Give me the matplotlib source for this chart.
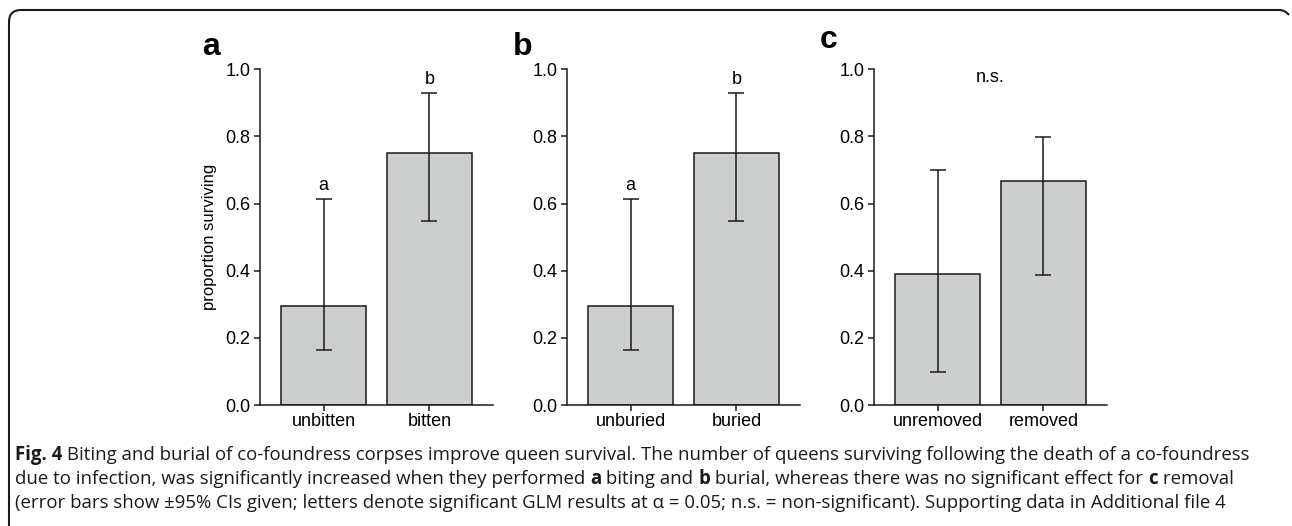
import matplotlib
matplotlib.use("Agg")
import matplotlib.pyplot as plt
from matplotlib.path import Path
from matplotlib.patches import PathPatch

# figure size in pixels
W, H = 1292, 526

# data
panels = ["a", "b", "c"]
groups = [["unbitten", "bitten"], ["unburied", "buried"], ["unremoved", "removed"]]
props = [[0.295, 0.750], [0.295, 0.750], [0.389, 0.667]]
ci_low = [[0.164, 0.548], [0.164, 0.548], [0.097, 0.386]]
ci_high = [[0.613, 0.930], [0.613, 0.930], [0.700, 0.797]]
sig_letters = [["a", "b"], ["a", "b"], None]
yticks = [0.0, 0.2, 0.4, 0.6, 0.8, 1.0]

caption = [
    [("Fig. 4", True), (" Biting and burial of co-foundress corpses improve queen survival. The number of queens surviving following the death of a co-foundress", False)],
    [("due to infection, was significantly increased when they performed ", False), ("a", True), (" biting and ", False), ("b", True),
     (" burial, whereas there was no significant effect for ", False), ("c", True), (" removal", False)],
    [("(error bars show \u00b195% CIs given; letters denote significant GLM results at \u03b1 = 0.05; n.s. = non-significant). Supporting data in Additional file 4", False)],
]

plt.rcParams['font.family'] = ['Liberation Sans', 'DejaVu Sans']

fig = plt.figure(figsize=(W / 100, H / 100), dpi=100)

bar_col = "#cdcfce"
ax_left = [260, 567, 874]      # px from left
ax_w = 233
ax_top, ax_bot = 69.3, 405     # px from top
label_pos = [(202, 55), (513, 55), (820, 48)]

for i in range(3):
    ax = fig.add_axes([ax_left[i] / W, 1 - ax_bot / H, ax_w / W, (ax_bot - ax_top) / H])
    x = [0, 1]
    yerr = [[props[i][k] - ci_low[i][k] for k in x], [ci_high[i][k] - props[i][k] for k in x]]
    ax.bar(x, props[i], width=0.8, color=bar_col, edgecolor="#1a1a1a", linewidth=1.1, zorder=2)
    ax.errorbar(x, props[i], yerr=yerr, fmt="none", ecolor="#1a1a1a", elinewidth=1.1,
                capsize=6, capthick=1.1, zorder=3)
    ax.set_xlim(-0.6, 1.6)
    ax.set_ylim(0, 1.0)
    ax.set_yticks(yticks)
    ax.set_xticks(x)
    ax.set_xticklabels(groups[i])
    for s in ["top", "right"]:
        ax.spines[s].set_visible(False)
    for s in ["left", "bottom"]:
        ax.spines[s].set_linewidth(1.1)
        ax.spines[s].set_color("#1a1a1a")
    ax.tick_params(axis="both", direction="out", length=4, width=1.1, color="#1a1a1a",
                   labelsize=13)
    ax.tick_params(axis="x", pad=2)
    ax.tick_params(axis="y", pad=3)
    ax.set_facecolor("none")

    if sig_letters[i] is not None:
        for k in x:
            ax.annotate(sig_letters[i][k], xy=(k, ci_high[i][k]), xytext=(0, 6.5),
                        textcoords="offset points", ha="center", va="baseline", fontsize=13)
    else:
        ax.text(0.5, 0.977, "n.s.", ha="center", va="center", fontsize=13)

    if i == 0:
        ax.set_ylabel("proportion surviving", fontsize=12)
        ax.yaxis.set_label_coords(-0.185, 0.5)

    lx, ly = label_pos[i]
    fig.text(lx / W, 1 - ly / H, panels[i], fontsize=23, fontweight="bold",
             ha="left", va="baseline")

# border of the figure box
verts = [(9, H + 5), (9, 22), (9, 10), (21, 10), (1279, 10), (1285, 10), (1289, 15)]
codes = [Path.MOVETO, Path.LINETO, Path.CURVE3, Path.CURVE3, Path.LINETO, Path.CURVE3, Path.CURVE3]
verts = [(vx / W, 1 - vy / H) for vx, vy in verts]
fig.patches.append(PathPatch(Path(verts, codes), transform=fig.transFigure, fill=False,
                             edgecolor="#1a1a1a", linewidth=1.5))

# caption with bold pieces
renderer = fig.canvas.get_renderer()
cap_font = ["Open Sans", "DejaVu Sans"]
cap_size = 12.6


def seg_width(txt, bold, size):
    t1 = fig.text(0, 0, "|" + txt + "|", fontsize=size, family=cap_font,
                  fontweight="bold" if bold else "normal")
    t2 = fig.text(0, 0, "||", fontsize=size, family=cap_font,
                  fontweight="bold" if bold else "normal")
    w = t1.get_window_extent(renderer).width - t2.get_window_extent(renderer).width
    t1.remove()
    t2.remove()
    return w


# scale the caption so the first line spans the same width as in the original
line1_w = sum(seg_width(t, b, cap_size) for t, b in caption[0])
cap_size = cap_size * (1254 - 15) / line1_w

baselines = [460, 484, 508]
for line, by in zip(caption, baselines):
    cx = 15
    for txt, bold in line:
        fig.text(cx / W, 1 - by / H, txt, fontsize=cap_size, family=cap_font,
                 fontweight="bold" if bold else "normal", ha="left", va="baseline",
                 color="#1a1a1a")
        cx += seg_width(txt, bold, cap_size)

fig.savefig("out.png", dpi=100, facecolor="white")
